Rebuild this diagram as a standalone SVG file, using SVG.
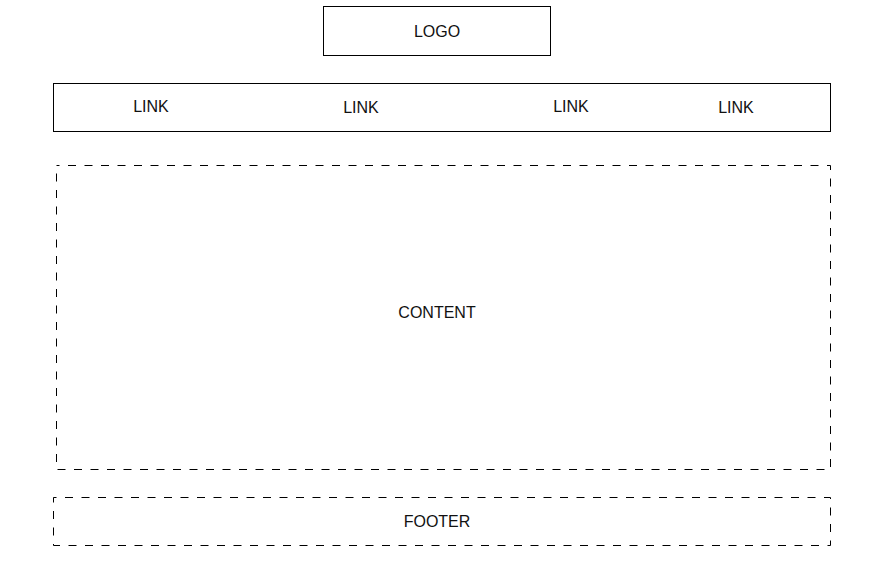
<svg xmlns="http://www.w3.org/2000/svg" width="885" height="575" viewBox="0 0 885 575">
<style>
.box{fill:#ffffff;stroke:#000000;stroke-width:1}
.dash{fill:#ffffff;stroke:#000000;stroke-width:1;stroke-dasharray:8 8.5;stroke-dashoffset:5}
.lbl{font-family:"Liberation Sans",Arial,sans-serif;font-size:16px;fill:#111111;text-anchor:middle}
</style>
<rect width="885" height="575" fill="#ffffff"/>
<g id="logo">
<rect class="box" x="323.5" y="6.5" width="227" height="49"/>
<text class="lbl" x="437" y="37">LOGO</text>
</g>
<g id="nav">
<rect class="box" x="53.5" y="83.5" width="777" height="48"/>
<text class="lbl" x="151" y="112">LINK</text>
<text class="lbl" x="361" y="113">LINK</text>
<text class="lbl" x="571" y="112">LINK</text>
<text class="lbl" x="736" y="113">LINK</text>
</g>
<g id="content">
<rect class="dash" x="56.5" y="165.5" width="774" height="304"/>
<text class="lbl" x="437" y="318">CONTENT</text>
</g>
<g id="footer">
<rect class="dash" x="53.5" y="497.5" width="777" height="48"/>
<text class="lbl" x="437" y="527">FOOTER</text>
</g>
<g id="connectors"></g>
</svg>
